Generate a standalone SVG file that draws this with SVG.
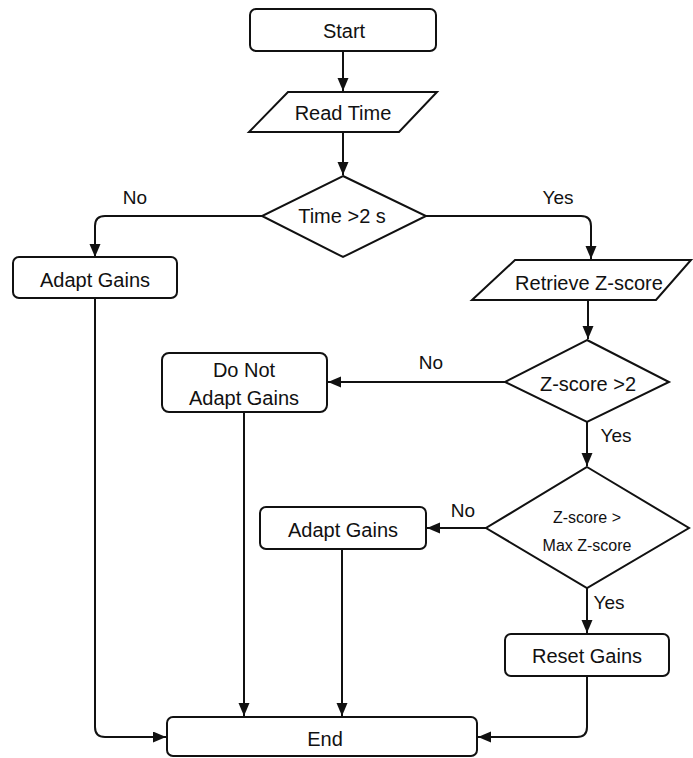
<svg xmlns="http://www.w3.org/2000/svg" width="693" height="758" viewBox="0 0 693 758">
<defs>
<marker id="arr" markerUnits="userSpaceOnUse" markerWidth="14" markerHeight="12" refX="13" refY="5.5" orient="auto">
<path d="M0,0 L13,5.5 L0,11 z" fill="#111"/>
</marker>
<style>
.box{fill:#fff;stroke:#111;stroke-width:2}
.t{font-family:"Liberation Sans",Arial,sans-serif;font-size:20px;fill:#111;text-anchor:middle}
.l{font-size:19px}
.s{font-size:16px}
.c{fill:none;stroke:#111;stroke-width:2;marker-end:url(#arr)}
</style>
</defs>
<rect width="693" height="758" fill="#fff"/>
<g id="connectors">
<path class="c" d="M343,51 V91"/>
<path class="c" d="M343,132 V175"/>
<path class="c" d="M262,216 H105 Q95,216 95,226 V257"/>
<path class="c" d="M426,216 H581 Q591,216 591,226 V259"/>
<path class="c" d="M588,300 V339"/>
<path class="c" d="M505,382 H328"/>
<path class="c" d="M587,422 V466"/>
<path class="c" d="M486,528 H427"/>
<path class="c" d="M587,588 V633"/>
<path class="c" d="M95,299 V727 Q95,737 105,737 H166"/>
<path class="c" d="M244,412 V716"/>
<path class="c" d="M342,549 V716"/>
<path class="c" d="M587,676 V727 Q587,737 577,737 H478"/>
<text class="t l" x="135" y="204">No</text>
<text class="t l" x="558" y="204">Yes</text>
<text class="t l" x="431" y="369">No</text>
<text class="t l" x="616" y="442">Yes</text>
<text class="t l" x="463" y="517">No</text>
<text class="t l" x="609" y="609">Yes</text>
</g>
<g id="start">
<rect class="box" x="250" y="9" width="186" height="42" rx="6"/>
<text class="t" x="344" y="38">Start</text>
</g>
<g id="read-time">
<polygon class="box" points="288,92 437,92 399,132 249,132"/>
<text class="t" x="343" y="120">Read Time</text>
</g>
<g id="time-decision">
<polygon class="box" points="343,176 426,216 343,257 262,216"/>
<text class="t" x="342" y="223">Time &gt;2 s</text>
</g>
<g id="adapt-gains-1">
<rect class="box" x="13" y="257" width="164" height="41" rx="6"/>
<text class="t" x="95" y="287">Adapt Gains</text>
</g>
<g id="retrieve-zscore">
<polygon class="box" points="515,260 691,260 656,300 472,300"/>
<text class="t" x="589" y="290">Retrieve Z-score</text>
</g>
<g id="zscore-decision">
<polygon class="box" points="587,340 669,382 587,422 505,382"/>
<text class="t" x="588" y="391">Z-score &gt;2</text>
</g>
<g id="do-not-adapt">
<rect class="box" x="162" y="353" width="165" height="59" rx="7"/>
<text class="t" x="244" y="377">Do Not</text>
<text class="t" x="244" y="405">Adapt Gains</text>
</g>
<g id="max-decision">
<polygon class="box" points="587,467 689,528 587,588 486,528"/>
<text class="t s" x="587" y="523">Z-score &gt;</text>
<text class="t s" x="587" y="551">Max Z-score</text>
</g>
<g id="adapt-gains-2">
<rect class="box" x="260" y="507" width="166" height="42" rx="6"/>
<text class="t" x="343" y="537">Adapt Gains</text>
</g>
<g id="reset-gains">
<rect class="box" x="505" y="634" width="164" height="42" rx="6"/>
<text class="t" x="587" y="663">Reset Gains</text>
</g>
<g id="end">
<rect class="box" x="167" y="717" width="310" height="39" rx="6"/>
<text class="t" x="325" y="746">End</text>
</g>
</svg>
